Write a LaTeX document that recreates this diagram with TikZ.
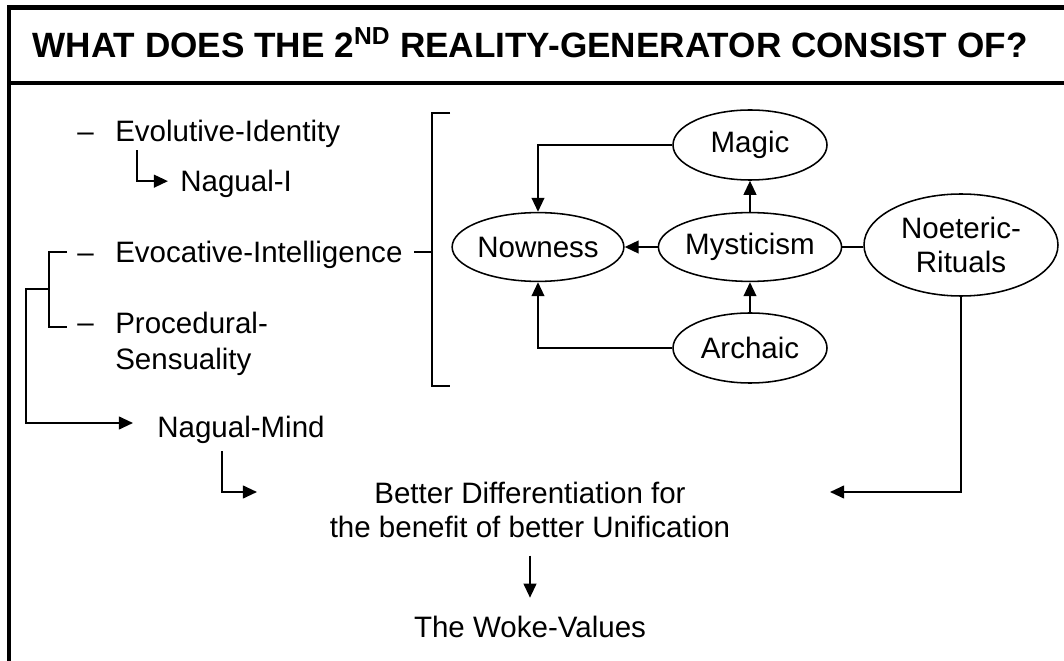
\documentclass[tikz,border=0pt]{standalone}
\usepackage{fontspec}
\setmainfont{Liberation Sans}
\usetikzlibrary{shapes, arrows.meta}

\tikzset{
  txt/.style={inner sep=0pt, anchor=base west, font=\fontsize{21pt}{24pt}\selectfont},
  oval/.style={ellipse, draw, line width=1.1pt, inner sep=0pt, align=center, font=\fontsize{21pt}{24pt}\selectfont},
  arr/.style={-{Triangle[length=10pt,width=9pt]}, line width=1.5pt},
  brk/.style={line width=1.3pt},
  frame/.style={line width=2.85pt}
}

\begin{document}
\begin{tikzpicture}
  \useasboundingbox (0,0) rectangle (26.6,16.5);

  % frame and title
  \draw[frame] (0.225,-0.2) -- (0.225,16.3125) -- (26.9,16.3125);
  \draw[frame] (0.225,14.425) -- (26.9,14.425);
  \node[anchor=base, inner sep=0pt, font=\fontsize{25pt}{30pt}\selectfont\bfseries] (title) at (13.25, 15.06)
    {WHAT DOES THE 2\textsuperscript{ND} REALITY-GENERATOR CONSIST OF?};

  % left list
  \node[txt] (d1) at (1.925, 12.95) {–};
  \node[txt] (evoid) at (2.875, 12.95) {Evolutive-Identity};
  \node[txt] (nagi) at (4.5, 11.7) {Nagual-I};
  \node[txt] (d2) at (1.925, 9.925) {–};
  \node[txt] (evoint) at (2.875, 9.925) {Evocative-Intelligence};
  \node[txt] (d3) at (1.925, 8.175) {–};
  \node[txt, align=left] (proc) at (2.875, 7.26) {Procedural-\\[2pt]Sensuality};
  \node[txt] (nmind) at (3.925, 5.575) {Nagual-Mind};

  \draw[arr] ([xshift=0.55cm, yshift=-0.05cm]evoid.south west) |- ([xshift=-0.3cm, yshift=0.08cm]nagi.west);

  % bracket round the two items
  \draw[brk] (1.675,10.2) -- (1.225,10.2) -- (1.225,8.325) -- (1.675,8.325);
  \coordinate (mindin) at (3.325,5.925);
  \draw[arr] (1.225,9.275) -- (0.65,9.275) |- (mindin);

  % big bracket
  \draw[brk] (11.25,13.675) -- (10.8,13.675) -- (10.8,6.85) -- (11.25,6.85);
  \draw[brk] (10.35,10.2) -- (10.8,10.2);

  % ovals
  \node[oval, minimum width=3.85cm, minimum height=1.75cm] (magic) at (18.75, 12.875) {Magic};
  \node[oval, minimum width=3.85cm, minimum height=1.72cm] (myst) at (18.75, 10.325) {Mysticism};
  \node[oval, minimum width=3.85cm, minimum height=1.75cm] (archaic) at (18.75, 7.8) {Archaic};
  \node[oval, minimum width=4.15cm, minimum height=1.72cm] (nowness) at (13.45, 10.325) {Nowness};
  \node[oval, minimum width=4.85cm, minimum height=2.55cm] (rituals) at (24.025, 10.375) {Noeteric-\\Rituals};

  \draw[arr] (magic.west) -| (nowness.north);
  \draw[arr] (archaic.west) -| (nowness.south);
  \draw[arr] (myst.west) -- (nowness.east);
  \draw[arr] (myst.north) -- (magic.south);
  \draw[arr] (archaic.north) -- (myst.south);
  \draw[line width=1.1pt] (myst.east) -- (myst.east -| rituals.west);

  % bottom part
  \node[txt, anchor=base, align=center] (diff) at (13.25, 3.075) {Better Differentiation for\\the benefit of better Unification};
  \node[txt, anchor=base] (woke) at (13.25, 0.575) {The Woke-Values};

  \coordinate (inl) at (6.425,4.2);
  \coordinate (inr) at (20.75,4.2);
  \draw[arr] ([xshift=-0.475cm, yshift=-0.2cm]nmind.south) |- (inl);
  \draw[arr] (rituals.south) |- (inr);
  \draw[arr, shorten <=0.45cm, shorten >=0.44cm] (diff.south) -- (woke.north);
\end{tikzpicture}
\end{document}
